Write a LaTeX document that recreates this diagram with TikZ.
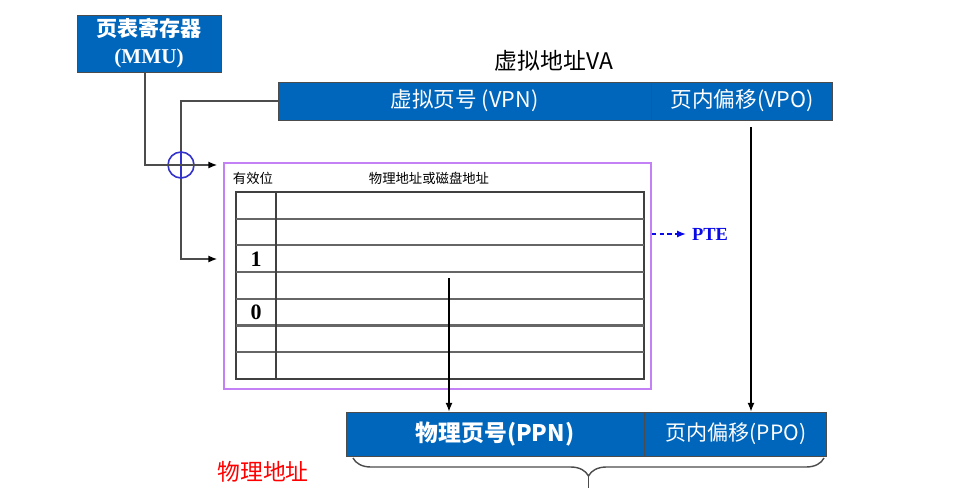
\documentclass[tikz,border=0pt]{standalone}
\usepackage{fontspec}
\newfontfamily\cjk{Noto Sans CJK SC}
\newfontfamily\tnr{Liberation Serif}
\usetikzlibrary{arrows.meta,decorations.pathreplacing}
\definecolor{boxblue}{RGB}{0,102,187}
\definecolor{xorblue}{RGB}{51,51,204}
\definecolor{ptpurple}{RGB}{196,128,245}
\definecolor{pteblue}{RGB}{10,10,230}

\begin{document}
\begin{tikzpicture}[x=0.02cm,y=-0.02cm,
  blk/.style={draw=black!70,fill=boxblue,text=white,inner sep=0pt},
  wire/.style={black!70,line width=0.8pt},
  ar/.style={-{Latex[length=5pt,width=4pt]}},
  bar/.style={-{Latex[length=5pt,width=4pt,black]}}]

\useasboundingbox (0,0) rectangle (953,487);

%MMU
\node[blk,minimum width=2.88cm,minimum height=1.14cm,align=center,font=\cjk\bfseries\fontsize{12}{15.3}\selectfont] (mmu) at (149,43.5) {页表寄存器\\{\tnr\bfseries (MMU)}};

%VA
\node[font=\cjk\fontsize{13}{15}\selectfont] (va) at (554,61) {虚拟地址VA};
\node[blk,minimum width=7.46cm,minimum height=0.76cm,font=\cjk\fontsize{12.3}{14}\selectfont] (vpn) at (464.5,101) {虚拟页号 (VPN)};
\node[blk,minimum width=3.62cm,minimum height=0.76cm,anchor=west,font=\cjk\fontsize{12.3}{14}\selectfont] (vpo) at (vpn.east) {页内偏移(VPO)};

%xor
\node[circle,draw=xorblue,line width=0.9pt,minimum size=0.52cm,inner sep=0pt] (xor) at (181,165) {};
\draw[xorblue,line width=0.9pt] (xor.north) -- (xor.south) (xor.west) -- (xor.east);

%page table
\node[draw=ptpurple,line width=0.8pt,minimum width=8.54cm,minimum height=4.52cm,inner sep=0pt] (pt) at (437.5,276) {};
\node[font=\cjk\fontsize{7.6}{9}\selectfont] (valid) at (253,178) {有效位};
\node[font=\cjk\fontsize{7.6}{9}\selectfont] (addr) at (429,178) {物理地址或磁盘地址};
\draw[black!75,line width=1pt] (235.7,192) rectangle (644,379);
\foreach \i in {1,...,6}
  \draw[black!60,line width=1.2pt] (235.7,192+26.7*\i) -- (644,192+26.7*\i);
\draw[black!75,line width=1pt] (276,192) -- (276,379);
\node[font=\tnr\bfseries\fontsize{12.5}{14}\selectfont] (v1) at (256,259) {1};
\node[font=\tnr\bfseries\fontsize{12.5}{14}\selectfont] (v0) at (256,312) {0};

%PTE
\node[font=\tnr\bfseries\fontsize{10.5}{12}\selectfont,text=pteblue] (pte) at (710,234) {PTE};
\draw[pteblue,line width=0.7pt,dash pattern=on 2.5pt off 2pt,ar] (pt.east |- pte) -- (pte.west);

%PPN
\node[blk,minimum width=5.96cm,minimum height=0.88cm,font=\cjk\bfseries\fontsize{13}{15}\selectfont] (ppn) at (495,434) {物理页号(PPN)};
\node[blk,minimum width=3.64cm,minimum height=0.88cm,anchor=west,font=\cjk\fontsize{12}{14}\selectfont] (ppo) at (ppn.east) {页内偏移(PPO)};
\node[text=red,font=\cjk\fontsize{13}{15}\selectfont] (pa) at (263,472) {物理地址};

%connectors
\draw[wire,bar] ([xshift=-0.08cm]mmu.south) |- ([xshift=-3.5pt]pt.west |- xor);
\draw[wire] (vpn.west) -| (xor.north);
\draw[wire,bar] (xor.south) |- ([xshift=-3.5pt]pt.west |- v1);

\coordinate (ppnsrc) at (449,278);
\draw[line width=0.8pt,ar] (ppnsrc) -- (ppnsrc |- ppn.north);
\coordinate (pposrc) at (751,127);
\draw[line width=0.8pt,ar] (pposrc) -- (pposrc |- ppo.north);

%brace
\coordinate (bl) at (353,458);
\coordinate (br) at (824,458);
\coordinate (btip) at (588.5,476);
\draw[black!70,line width=0.8pt,decorate,decoration={brace,mirror,amplitude=0.36cm}] (bl) -- (br);
\draw[black!70,line width=0.8pt] (btip) -- ++(0,15);
\end{tikzpicture}
\end{document}
